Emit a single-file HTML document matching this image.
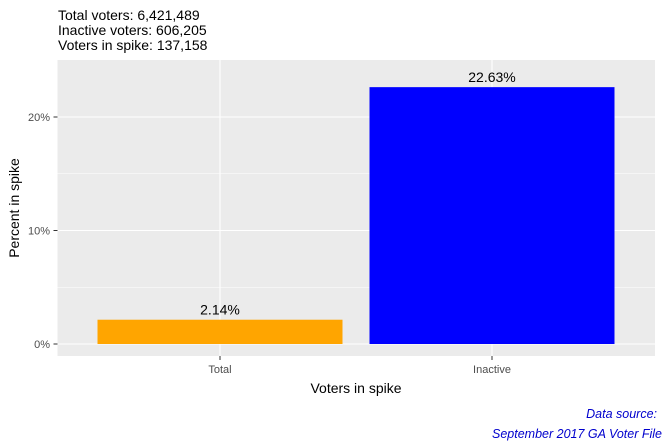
<!DOCTYPE html>
<html><head><meta charset="utf-8"><style>
body{margin:0;background:#fff;font-family:"Liberation Sans",Arial,sans-serif}
svg text{font-family:"Liberation Sans",Arial,sans-serif}
</style></head><body>
<svg id="c" width="663" height="443" xmlns="http://www.w3.org/2000/svg">
<text x="58" y="20" font-size="14" fill="#000">Total voters: 6,421,489</text>
<text x="58" y="35" font-size="14" fill="#000">Inactive voters: 606,205</text>
<text x="58" y="50" font-size="14" fill="#000">Voters in spike: 137,158</text>
<rect x="57.5" y="60" width="597.5" height="296" fill="#ebebeb"/>
<g id="grid"></g><g id="bars"></g><g id="axes"></g>
<text x="356" y="393" font-size="14" text-anchor="middle" fill="#000">Voters in spike</text>
<text transform="translate(19,208) rotate(-90)" font-size="14" text-anchor="middle" fill="#000">Percent in spike</text>
<text x="657" y="418" font-size="12.5" font-style="italic" text-anchor="end" fill="#0000cd">Data source:</text>
<text x="662" y="438" font-size="12.5" font-style="italic" text-anchor="end" fill="#0000cd">September 2017 GA Voter File</text>
</svg>
<script>
const categories=["Total","Inactive"];
const values=[2.14,22.63];
const colors=["#ffa500","#0000ff"];
const yTicks=[0,10,20];
const yMinor=[5,15];
const ns="http://www.w3.org/2000/svg";
const y=v=>344-v*11.35;
const xc=i=>220+i*272;
const bw=245;
function mk(t,a,p){const e=document.createElementNS(ns,t);for(const k in a)e.setAttribute(k,a[k]);document.getElementById(p).appendChild(e);return e;}
yMinor.forEach(v=>{const l=mk('line',{x1:57.5,x2:655,y1:y(v),y2:y(v),stroke:'#fff','stroke-width':0.5},'grid');

});
yTicks.forEach(v=>{const l=mk('line',{x1:57.5,x2:655,y1:y(v),y2:y(v),stroke:'#fff','stroke-width':1.1},'grid');


const t=mk('text',{x:50,y:y(v)+4,'font-size':11,'text-anchor':'end',fill:'#4d4d4d'},'axes');t.textContent=v+'%';


mk('line',{x1:53.5,x2:57.5,y1:y(v),y2:y(v),stroke:'#333'},'axes');});
categories.forEach((c,i)=>{const l=mk('line',{x1:xc(i),x2:xc(i),y1:60,y2:356,stroke:'#fff','stroke-width':1.1},'grid');


const r=mk('rect',{x:xc(i)-bw/2,y:y(values[i]),width:bw,height:y(0)-y(values[i]),fill:colors[i]},'bars');


const t=mk('text',{x:xc(i),y:y(values[i])-5,'font-size':14,'text-anchor':'middle',fill:'#000'},'bars');t.textContent=values[i].toFixed(2)+'%';


mk('line',{x1:xc(i),x2:xc(i),y1:356,y2:360,stroke:'#333'},'axes');
const xt=mk('text',{x:xc(i),y:373,'font-size':11,'text-anchor':'middle',fill:'#4d4d4d'},'axes');xt.textContent=c;

});
</script>
</body></html>
